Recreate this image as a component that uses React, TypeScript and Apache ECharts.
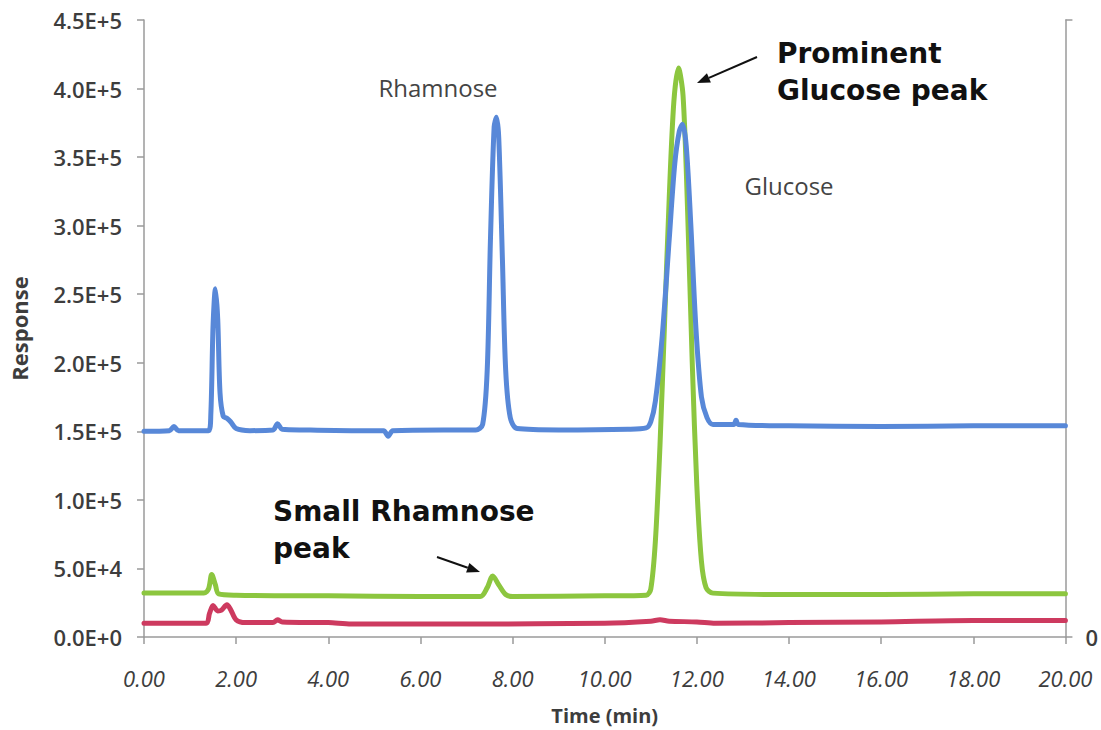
import React, { useEffect, useRef } from "react";
import * as echarts from "echarts";

// Time (min), Response pairs
const blueTrace: [number, number][] = [
  [0, 150000], [0.55, 150500], [0.65, 153500], [0.75, 150500], [1.4, 150500],
  [1.45, 162000], [1.5, 228000], [1.55, 254000], [1.6, 232000], [1.65, 178000],
  [1.72, 161000], [1.8, 159500], [1.88, 157000], [2.0, 152000], [2.3, 150500],
  [2.8, 151000], [2.9, 155500], [3.0, 151500], [3.5, 151000], [4.5, 150500],
  [5.2, 150500], [5.3, 146500], [5.4, 150500], [6.5, 151000], [7.2, 151000],
  [7.35, 155000], [7.45, 195000], [7.52, 290000], [7.6, 372000], [7.65, 379000],
  [7.7, 364000], [7.78, 275000], [7.85, 195000], [7.95, 160000], [8.1, 152000],
  [9.0, 151000], [10.5, 151500], [10.9, 152500], [11.0, 157000], [11.1, 172000],
  [11.25, 220000], [11.4, 290000], [11.52, 345000], [11.62, 369000], [11.69, 374000],
  [11.77, 358000], [11.87, 300000], [11.98, 225000], [12.1, 175000], [12.22, 160000],
  [12.35, 155000], [12.8, 155000], [12.85, 158000], [12.9, 155000], [14.0, 154000],
  [16.0, 153500], [18.0, 154000], [20.0, 154000],
];

const greenTrace: [number, number][] = [
  [0, 32000], [1.3, 32000], [1.4, 35000], [1.47, 45500], [1.55, 38000],
  [1.62, 31500], [2.0, 30500], [4.0, 30000], [6.0, 29500], [7.3, 29500],
  [7.45, 36000], [7.57, 44500], [7.7, 38000], [7.85, 31000], [8.0, 29500],
  [10.0, 30000], [10.9, 30500], [11.0, 35000], [11.1, 70000], [11.2, 140000],
  [11.3, 230000], [11.4, 320000], [11.5, 390000], [11.6, 415000], [11.7, 395000],
  [11.8, 310000], [11.9, 200000], [12.0, 110000], [12.1, 55000], [12.2, 36000],
  [12.35, 32000], [14.0, 31000], [16.0, 31000], [18.0, 31500], [20.0, 31500],
];

const redTrace: [number, number][] = [
  [0, 10000], [1.35, 10000], [1.42, 17000], [1.5, 23000], [1.6, 19000],
  [1.68, 19500], [1.8, 23500], [1.88, 20000], [2.0, 12500], [2.2, 10500],
  [2.8, 10500], [2.9, 12500], [3.0, 11000], [4.0, 10500], [4.5, 9500],
  [7.0, 9500], [10.0, 10000], [11.0, 11500], [11.2, 12500], [11.4, 11500],
  [12.0, 11000], [12.4, 10000], [14.0, 10500], [16.0, 11000], [18.0, 12000],
  [20.0, 12000],
];

const xTicks = { min: 0, max: 20, interval: 2 };
const yTicks = { min: 0, max: 450000, interval: 50000 };

const peakLabels = [
  { text: "Rhamnose", x: 438, y: 87 },
  { text: "Glucose", x: 789, y: 185 },
];

const noteLabels = [
  { text: "Prominent\nGlucose peak", x: 777, y: 35 },
  { text: "Small Rhamnose\npeak", x: 273, y: 493 },
];

const LABEL_COLOR = "#3d3d3d";
const AXIS_COLOR = "#9a9a9a";

function arrow(x1: number, y1: number, x2: number, y2: number) {
  const ang = Math.atan2(y2 - y1, x2 - x1);
  const len = 13;
  const w = 5;
  const bx = x2 - len * Math.cos(ang);
  const by = y2 - len * Math.sin(ang);
  const px = -Math.sin(ang) * w;
  const py = Math.cos(ang) * w;
  return [
    {
      type: "line",
      shape: { x1, y1, x2: bx, y2: by },
      style: { stroke: "#111", lineWidth: 2 },
    },
    {
      type: "polygon",
      shape: { points: [[x2, y2], [bx + px, by + py], [bx - px, by - py]] },
      style: { fill: "#111" },
    },
  ];
}

export default function App() {
  const ref = useRef<HTMLDivElement>(null);
  useEffect(() => {
    if (!ref.current) return;
    const chart = echarts.init(ref.current, undefined, { renderer: "svg" });
    const lineSeries = (data: [number, number][], color: string) => ({
      type: "line",
      data,
      showSymbol: false,
      smooth: 0.3,
      lineStyle: { color, width: 5, join: "round", cap: "round" },
      itemStyle: { color },
      z: 2,
    });
    chart.setOption({
      animation: false,
      backgroundColor: "#ffffff",
      grid: { left: 144, right: 32, top: 20, bottom: 93 },
      xAxis: {
        type: "value",
        ...xTicks,
        name: "Time (min)",
        nameLocation: "middle",
        nameGap: 68,
        nameTextStyle: { fontFamily: "Open Sans", fontWeight: "bold", fontSize: 20, color: LABEL_COLOR },
        axisLine: { show: true, lineStyle: { color: AXIS_COLOR, width: 1.5 } },
        axisTick: { show: true, length: 7, lineStyle: { color: AXIS_COLOR, width: 1.5 } },
        splitLine: { show: false },
        axisLabel: {
          margin: 30,
          fontFamily: "Open Sans",
          fontStyle: "italic",
          fontSize: 22,
          color: LABEL_COLOR,
          formatter: (v: number) => v.toFixed(2),
        },
      },
      yAxis: [
        {
          type: "value",
          ...yTicks,
          name: "Response",
          nameLocation: "middle",
          nameGap: 114,
          nameRotate: 90,
          nameTextStyle: { fontFamily: "Open Sans", fontWeight: "bold", fontSize: 22, color: LABEL_COLOR },
          axisLine: { show: true, lineStyle: { color: AXIS_COLOR, width: 1.5 } },
          axisTick: { show: true, length: 7, lineStyle: { color: AXIS_COLOR, width: 1.5 } },
          splitLine: { show: false },
          axisLabel: {
            margin: 22,
            fontFamily: "Open Sans",
            fontWeight: 600,
            fontSize: 22,
            color: LABEL_COLOR,
            formatter: (v: number) => v.toExponential(1).toUpperCase(),
          },
        },
        {
          type: "value",
          min: 0,
          max: 450000,
          interval: 450000,
          position: "right",
          axisLine: { show: true, lineStyle: { color: AXIS_COLOR, width: 1.5 } },
          axisTick: { show: true, length: 7, lineStyle: { color: AXIS_COLOR, width: 1.5 } },
          splitLine: { show: false },
          axisLabel: {
            margin: 20,
            fontFamily: "Open Sans",
            fontWeight: 600,
            fontSize: 22,
            color: LABEL_COLOR,
            formatter: (v: number) => (v === 0 ? "0" : ""),
          },
        },
      ],
      series: [
        lineSeries(redTrace, "#cd3a5f"),
        lineSeries(greenTrace, "#8cc63f"),
        lineSeries(blueTrace, "#5888d8"),
      ],
      graphic: [
        ...peakLabels.map((p) => ({
          type: "text",
          x: p.x,
          y: p.y,
          style: {
            text: p.text,
            fontFamily: "Open Sans",
            fontSize: 24,
            fill: "#444",
            align: "center",
            verticalAlign: "middle",
          },
        })),
        ...noteLabels.map((p) => ({
          type: "text",
          x: p.x,
          y: p.y,
          style: {
            text: p.text,
            fontFamily: "DejaVu Sans",
            fontWeight: "bold",
            fontSize: 28,
            lineHeight: 37,
            fill: "#111",
            align: "left",
            verticalAlign: "top",
          },
        })),
        ...arrow(757, 57, 697, 83),
        ...arrow(437, 557, 480, 572),
      ],
    });
    return () => chart.dispose();
  }, []);
  return (
    <div
      ref={ref}
      style={{ position: "fixed", left: 0, top: 0, width: 1101, height: 730 }}
    />
  );
}
